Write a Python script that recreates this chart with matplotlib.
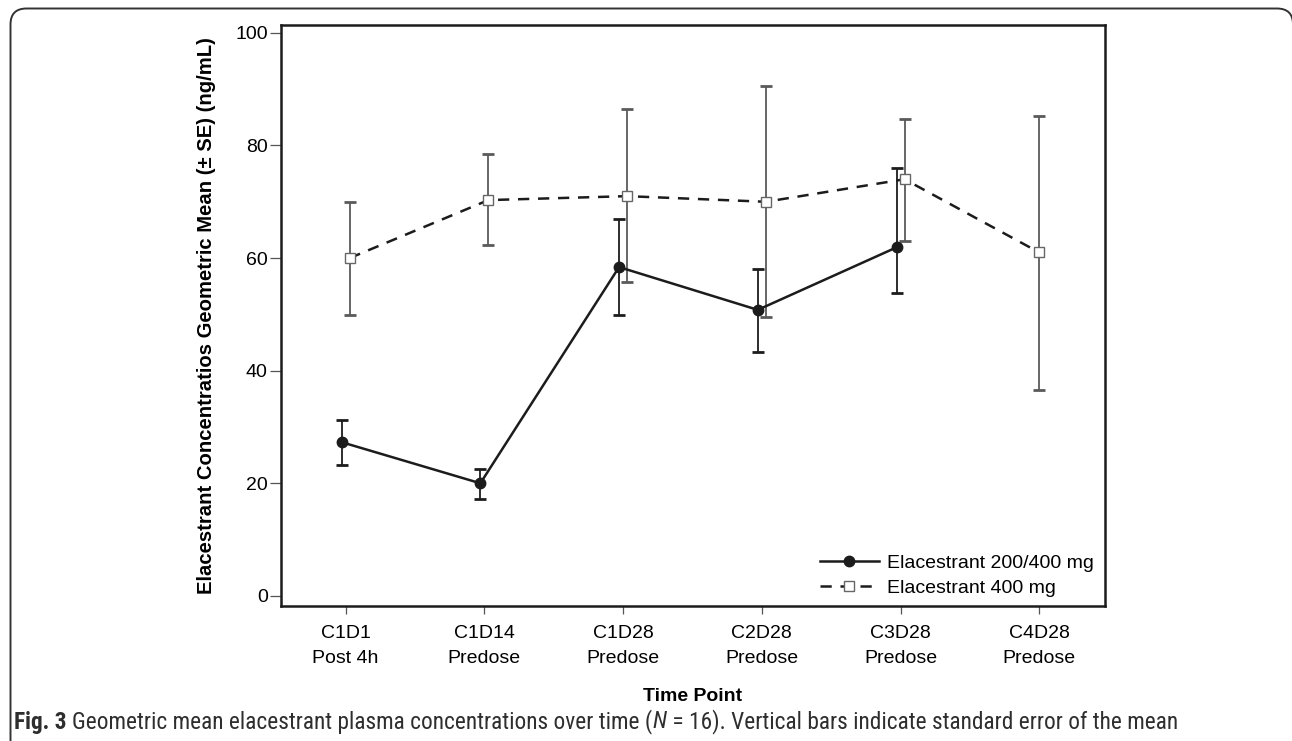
import matplotlib
matplotlib.use("Agg")
import matplotlib.pyplot as plt
import numpy as np
from matplotlib import font_manager
from matplotlib.patches import FancyBboxPatch
from matplotlib.transforms import IdentityTransform

# ---------------- data ----------------
time_points = ["C1D1\nPost 4h", "C1D14\nPredose", "C1D28\nPredose",
               "C2D28\nPredose", "C3D28\nPredose", "C4D28\nPredose"]

mean_200_400 = [27.3, 20.0, 58.4, 50.8, 61.9]
low_200_400 = [23.3, 17.2, 49.9, 43.4, 53.8]
high_200_400 = [31.2, 22.5, 66.9, 58.1, 76.0]

mean_400 = [60.0, 70.3, 71.0, 70.0, 74.0, 61.0]
low_400 = [49.9, 62.4, 55.7, 49.5, 63.1, 36.5]
high_400 = [70.0, 78.5, 86.5, 90.5, 84.7, 85.2]

label_200_400 = "Elacestrant 200/400 mg"
label_400 = "Elacestrant 400 mg"
yticks = [0, 20, 40, 60, 80, 100]

# ---------------- fonts ----------------
installed = {f.name for f in font_manager.fontManager.ttflist}
main_font = "Liberation Sans" if "Liberation Sans" in installed else "DejaVu Sans"
cap_font = None
for cand in ["Liberation Sans Narrow", "Roboto Condensed", "DejaVu Sans Condensed", "Open Sans"]:
    if cand in installed:
        cap_font = cand
        break
if cap_font is None:
    cap_font = main_font
plt.rcParams['font.family'] = [main_font, 'DejaVu Sans']

W, H, DPI = 1292, 741, 100
fig = plt.figure(figsize=(W / DPI, H / DPI), dpi=DPI)
fig.patch.set_facecolor("white")

ax = fig.add_axes([281 / W, 1 - 606 / H, (1105 - 281) / W, (606 - 25) / H])

n1 = len(mean_200_400)
n2 = len(mean_400)
dx = 0.029
x1 = np.arange(n1) - dx
x2 = np.arange(n2) + np.where(np.arange(n2) < n1, dx, 0.0)

m1 = np.array(mean_200_400)
m2 = np.array(mean_400)
err1 = [m1 - np.array(low_200_400), np.array(high_200_400) - m1]
err2 = [m2 - np.array(low_400), np.array(high_400) - m2]

dark = "#1c1c1c"
grey = "#5a5a5a"

# error bars
ax.errorbar(x2, m2, yerr=err2, fmt="none", ecolor=grey, elinewidth=1.3,
            capsize=4.5, capthick=2.0, zorder=2)
ax.errorbar(x1, m1, yerr=err1, fmt="none", ecolor=dark, elinewidth=1.3,
            capsize=4.5, capthick=2.0, zorder=2)

# lines
ax.plot(x2, m2, linestyle=(0, (4.5, 3.5)), color=dark, lw=1.8, marker="s",
        markersize=7.5, markerfacecolor="white", markeredgecolor="#666666",
        markeredgewidth=1.0, label=label_400, zorder=4)
ax.plot(x1, m1, linestyle="-", color=dark, lw=1.8, marker="o",
        markersize=7.5, markerfacecolor=dark, markeredgecolor=dark,
        label=label_200_400, zorder=5)

ax.set_xlim(-0.466, 5.474)
ax.set_ylim(-1.8, 101.4)
ax.set_xticks(np.arange(len(time_points)))
ax.set_xticklabels(time_points, fontsize=14, linespacing=1.55)
ax.set_yticks(yticks)
ax.set_yticklabels([str(v) for v in yticks], fontsize=14)
ax.tick_params(axis="y", direction="out", length=8, width=0.9, color="#555555", pad=1.5)
ax.tick_params(axis="x", direction="out", length=6, width=0.9, color="#555555", pad=8)
for s in ax.spines.values():
    s.set_linewidth(1.8)
    s.set_color(dark)

ax.set_ylabel("Elacestrant Concentratios Geometric Mean (± SE) (ng/mL)",
              fontsize=14.6, fontweight="bold")
ax.yaxis.set_label_coords(-0.0785, 0.5)
ax.set_xlabel("Time Point", fontsize=14, fontweight="bold")
ax.xaxis.set_label_coords(0.5, -0.141)

h, l = ax.get_legend_handles_labels()
order = [l.index(label_200_400), l.index(label_400)]
ax.legend([h[i] for i in order], [l[i] for i in order], loc="lower right",
          bbox_to_anchor=(0.987, 0.016), frameon=False, fontsize=14,
          handlelength=3.0, handletextpad=0.45, labelspacing=0.36,
          borderaxespad=0, borderpad=0)

# outer rounded frame
frame = FancyBboxPatch((10.5, -60), 1293 - 10.5, (H - 8.5) + 60,
                       boxstyle="round,pad=0,rounding_size=16",
                       transform=IdentityTransform(), fill=False,
                       edgecolor="#333333", linewidth=1.4)
fig.add_artist(frame)

# caption
fig.canvas.draw()
renderer = fig.canvas.get_renderer()
cap_y = 1 - 722 / H
pieces = [("Fig. 3", "bold", "normal"),
          ("Geometric mean elacestrant plasma concentrations over time (", "normal", "normal"),
          ("N", "normal", "italic"),
          (" = 16). Vertical bars indicate standard error of the mean", "normal", "normal")]
xpix = 14
for txt, wt, st in pieces:
    t = fig.text(xpix / W, cap_y, txt, fontsize=16.8, fontweight=wt, fontstyle=st,
                 family=[cap_font, "DejaVu Sans"], color="#2e2e2e", va="center", ha="left")
    bb = t.get_window_extent(renderer=renderer)
    xpix = bb.x1
    if txt == "Fig. 3":
        xpix += 6

fig.savefig("out.png", dpi=DPI, facecolor="white")
